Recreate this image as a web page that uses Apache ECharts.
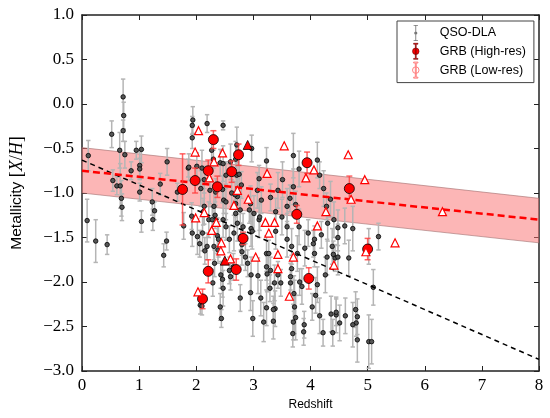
<!DOCTYPE html>
<html>
<head>
<meta charset="utf-8">
<script src="https://cdn.jsdelivr.net/npm/echarts@6/dist/echarts.min.js"></script>
<style>
  html, body { margin: 0; padding: 0; background: #fff; }
  #chart { width: 550px; height: 418px; }
</style>
</head>
<body>
<div id="chart"></div>
<script>
// QSO-DLA metallicities: redshift, [X/H], 1-sigma error
const qsoZ = [0.11, 0.52, 0.72, 0.73, 0.72, 0.66, 0.75, 0.95, 1.04, 0.86, 1.01, 1.01, 0.54, 0.61, 0.67, 0.69, 0.70, 1.01, 1.23, 1.37,
  1.49, 1.67, 1.86, 1.94, 1.93, 1.93, 2.19, 2.47, 2.27, 2.30, 2.01, 2.10, 2.34, 2.42, 2.71, 2.69, 2.71, 2.72, 2.69, 2.48,
  2.31, 2.12, 0.09, 0.24, 0.44, 1.04, 1.27, 1.24, 1.48, 1.43, 1.78, 1.92, 2.02, 2.06, 2.11, 2.15, 2.07, 2.22, 2.33, 2.37,
  2.38, 2.32, 2.46, 2.47, 2.42, 2.44, 2.58, 2.60, 2.65, 2.77, 2.80, 2.80, 2.78, 2.86, 2.90, 2.96, 3.01, 3.10, 3.23, 3.27,
  3.24, 3.30, 3.38, 3.37, 3.43, 3.48, 3.59, 3.67, 3.65, 3.67, 3.72, 3.74, 3.77, 3.81, 3.85, 4.05, 4.07, 4.12, 4.16, 4.26,
  4.38, 4.43, 4.45, 2.29, 2.43, 2.96, 2.95, 3.08, 3.13, 3.23, 3.29, 2.99, 3.18, 3.35, 3.35, 3.23, 3.65, 3.70, 3.88, 3.89,
  4.09, 4.22, 4.36, 4.39, 4.45, 4.51, 4.61, 4.79, 4.82, 4.80, 4.82, 5.02, 5.07, 5.10, 3.69, 3.71, 4.03, 4.74, 2.10, 4.23,
  4.35, 4.28, 4.30, 4.41, 4.48, 4.60, 4.74, 4.48, 4.19, 5.19, 4.29, 4.40, 4.48, 4.67, 5.02, 2.97, 3.23, 3.70, 3.80, 4.12,
  4.16, 3.10, 3.07, 3.30, 3.43, 3.51, 3.70, 3.64, 3.59, 3.74, 3.39, 3.50, 3.39, 3.59, 3.80, 3.90, 3.96, 4.07, 2.75, 2.79,
  2.62, 2.68, 2.52, 2.69, 2.77, 2.95, 2.93, 3.14, 3.11, 2.72, 2.82, 2.98, 2.66, 2.52, 2.47, 2.58, 2.39, 2.31, 2.19, 1.93,
  2.28, 2.14, 1.87, 2.14, 2.08, 2.24, 2.46, 2.47, 2.52, 2.60];
const qsoMet = [-0.58, -0.34, 0.08, -0.13, -0.30, -0.52, -0.57, -0.52, -0.51, -0.75, -0.69, -0.73, -0.86, -0.92, -0.92, -1.06, -1.16, -0.99, -1.10, -0.90,
  -0.65, -0.99, -0.72, -0.18, -0.38, -0.24, -0.22, -0.24, -0.52, -0.62, -0.70, -0.72, -0.99, -0.66, -0.46, -0.62, -0.80, -1.04, -1.23, -1.08,
  -1.15, -1.21, -1.31, -1.54, -1.58, -1.32, -1.20, -1.30, -1.54, -1.70, -1.37, -1.26, -1.49, -1.57, -1.45, -1.65, -2.26, -1.30, -1.25, -1.48,
  -1.64, -1.79, -1.97, -2.07, -2.28, -2.41, -1.87, -1.94, -1.83, -2.18, -1.66, -1.58, -1.49, -1.72, -1.79, -1.40, -1.23, -1.30, -1.68, -1.68,
  -1.91, -1.87, -2.30, -2.01, -1.92, -2.01, -1.52, -1.60, -1.94, -1.85, -2.28, -2.40, -1.68, -2.00, -2.05, -1.57, -1.68, -2.03, -2.38, -1.92,
  -1.60, -1.73, -2.37, -2.01, -1.92, -1.92, -2.12, -1.93, -2.18, -2.29, -2.07, -2.41, -2.45, -2.44, -2.31, -1.83, -2.01, -2.45, -2.56, -2.48,
  -2.15, -2.57, -2.36, -2.57, -2.34, -2.46, -2.38, -2.31, -2.39, -2.46, -2.65, -2.67, -2.67, -2.06, -2.58, -2.13, -2.28, -2.48, -2.27, -0.95,
  -1.07, -1.15, -1.34, -1.30, -1.39, -1.37, -1.40, -1.50, -1.47, -1.49, -1.72, -1.69, -1.72, -1.73, -1.60, -0.50, -0.64, -0.58, -0.73, -0.63,
  -0.80, -0.84, -0.97, -1.05, -0.97, -0.85, -0.93, -1.06, -1.15, -1.13, -1.21, -1.27, -1.43, -1.38, -1.38, -1.62, -1.45, -1.52, -0.79, -0.91,
  -1.00, -1.02, -1.10, -1.12, -1.19, -1.12, -1.19, -1.08, -1.27, -1.34, -1.38, -1.43, -1.45, -1.38, -1.30, -1.52, -1.52, -1.60, -1.60, -1.45,
  -1.30, -1.15, -0.71, -0.85, -0.95, -0.97, -0.96, -0.67, -0.80, -0.65];
const qsoErr = [0.17, 0.15, 0.20, 0.15, 0.12, 0.20, 0.15, 0.10, 0.15, 0.10, 0.15, 0.12, 0.12, 0.10, 0.25, 0.20, 0.15, 0.10, 0.15, 0.12,
  0.15, 0.10, 0.10, 0.15, 0.12, 0.10, 0.10, 0.05, 0.15, 0.10, 0.15, 0.20, 0.15, 0.15, 0.20, 0.20, 0.15, 0.20, 0.15, 0.15,
  0.20, 0.15, 0.24, 0.24, 0.11, 0.12, 0.10, 0.12, 0.10, 0.13, 0.15, 0.15, 0.20, 0.15, 0.20, 0.15, 0.10, 0.20, 0.15, 0.20,
  0.15, 0.15, 0.20, 0.20, 0.15, 0.10, 0.15, 0.15, 0.15, 0.15, 0.15, 0.12, 0.15, 0.15, 0.15, 0.20, 0.20, 0.20, 0.20, 0.15,
  0.20, 0.15, 0.20, 0.20, 0.15, 0.15, 0.20, 0.20, 0.15, 0.15, 0.30, 0.25, 0.20, 0.15, 0.20, 0.15, 0.15, 0.20, 0.20, 0.20,
  0.20, 0.15, 0.20, 0.15, 0.15, 0.20, 0.20, 0.20, 0.20, 0.20, 0.15, 0.20, 0.22, 0.20, 0.15, 0.15, 0.15, 0.20, 0.15, 0.15,
  0.20, 0.15, 0.20, 0.15, 0.15, 0.20, 0.20, 0.20, 0.20, 0.15, 0.25, 0.30, 0.25, 0.20, 0.15, 0.20, 0.15, 0.25, 0.10, 0.20,
  0.20, 0.15, 0.20, 0.20, 0.20, 0.20, 0.25, 0.15, 0.15, 0.15, 0.20, 0.15, 0.20, 0.20, 0.20, 0.15, 0.15, 0.25, 0.20, 0.20,
  0.15, 0.15, 0.20, 0.15, 0.20, 0.20, 0.20, 0.15, 0.20, 0.15, 0.15, 0.20, 0.20, 0.15, 0.20, 0.20, 0.15, 0.15, 0.20, 0.15,
  0.15, 0.15, 0.20, 0.15, 0.15, 0.20, 0.15, 0.15, 0.15, 0.20, 0.15, 0.20, 0.20, 0.15, 0.20, 0.15, 0.20, 0.15, 0.15, 0.15,
  0.15, 0.20, 0.15, 0.15, 0.20, 0.15, 0.15, 0.20, 0.15, 0.20];

// GRB-DLA, high resolution spectra (circles = measurements, triangles = limits)
const grbHiZ = [1.76, 1.98, 2.21, 2.30, 2.37, 2.62, 2.74, 2.82, 3.76, 3.94, 4.68, 5.00, 2.11, 2.21, 2.70, 3.97];
const grbHiMet = [-0.96, -0.86, -0.75, -0.40, -0.93, -0.76, -0.57, -1.51, -1.24, -0.66, -0.95, -1.63, -2.19, -1.88, -1.86, -1.96];
const grbHiErr = [0.40, 0.14, 0.12, 0.10, 0.12, 0.12, 0.12, 0.07, 0.10, 0.12, 0.14, 0.12, 0.11, 0.13, 0.12, 0.12];
const grbHiLimZ = [2.90, 2.50];
const grbHiLimMet = [-0.46, -1.76];

// GRB-DLA, low resolution spectra (limits)
const grbLoZ = [2.04, 1.98, 2.46, 2.31, 3.54, 4.06, 3.92, 3.24, 2.23, 2.72, 2.91, 2.66, 4.27, 2.14, 1.99, 2.35, 3.21, 3.37,
  2.27, 3.27, 4.12, 2.44, 2.43, 3.04, 3.43, 3.70, 3.43, 2.60, 4.41, 2.03, 3.63, 4.66, 4.95, 4.71, 6.31, 5.48, 4.97];
const grbLoMet = [-0.30, -0.54, -0.55, -0.65, -0.47, -0.74, -0.83, -0.78, -0.83, -0.97, -1.07, -1.14, -1.21, -1.22, -1.28, -1.33, -1.33, -1.33,
  -1.42, -1.45, -1.37, -1.56, -1.65, -1.72, -1.69, -1.72, -1.85, -1.74, -1.81, -2.11, -2.16, -0.57, -0.85, -1.07, -1.21, -1.56, -1.66];

// linear fits
const fitZ = [0, 8];
const qsoFitMet = [-0.63, -2.87];
const grbFitMet = [-0.75, -1.30];
const grbBandLo = [-1.00, -1.56];
const grbBandHi = [-0.49, -1.06];

const minus = (s) => s.replace('-', '\u2212');

function errorBars(color, width, cap) {
  return function (params, api) {
    const x = api.value(0), y = api.value(1), e = api.value(2);
    const top = api.coord([x, y + e]);
    const bot = api.coord([x, y - e]);
    const st = { stroke: color, lineWidth: width };
    return {
      type: 'group',
      children: [
        { type: 'line', shape: { x1: top[0], y1: top[1], x2: bot[0], y2: bot[1] }, style: st },
        { type: 'line', shape: { x1: top[0] - cap, y1: top[1], x2: top[0] + cap, y2: top[1] }, style: st },
        { type: 'line', shape: { x1: bot[0] - cap, y1: bot[1], x2: bot[0] + cap, y2: bot[1] }, style: st }
      ]
    };
  };
}

const qsoData = qsoZ.map((z, i) => [z, qsoMet[i], qsoErr[i]]);
const grbHiData = grbHiZ.map((z, i) => [z, grbHiMet[i], grbHiErr[i]]);

// legend icons: error bar with a marker in the middle
const barIcon = 'path://M3,1H9V2.2H6.6V21.8H9V23H3V21.8H5.4V2.2H3Z';
const qsoIcon = barIcon + 'M8.2,12A2.2,2.2 0 1,1 3.8,12A2.2,2.2 0 1,1 8.2,12Z';
const grbIcon = barIcon + 'M10.5,12A4.5,4.5 0 1,1 1.5,12A4.5,4.5 0 1,1 10.5,12Z';

const tickLabel = { fontFamily: 'Liberation Serif', fontSize: 17, color: '#000' };
const axisLine = { onZero: false, lineStyle: { color: '#222', width: 1.5 } };
const tick = { inside: true, length: 5, lineStyle: { color: '#222', width: 1 } };

const chart = echarts.init(document.getElementById('chart'));

chart.setOption({
  animation: false,
  grid: { left: 81, right: 11, top: 15, bottom: 47 },
  legend: {
    left: 397,
    top: 21,
    orient: 'vertical',
    padding: [4, 8, 4, 15],
    itemGap: 2,
    itemWidth: 8,
    itemHeight: 16,
    borderColor: '#444',
    borderWidth: 1,
    textStyle: { fontFamily: 'Liberation Sans', fontSize: 12.5, color: '#000', padding: [0, 0, 0, 15] },
    data: [
      { name: 'QSO-DLA', icon: qsoIcon, itemStyle: { color: '#777', borderWidth: 0 } },
      { name: 'GRB (High-res)', icon: grbIcon, itemStyle: { color: '#ff0000', borderColor: '#600', borderWidth: 0.6 } },
      { name: 'GRB (Low-res)', icon: grbIcon, itemStyle: { color: '#fff', borderColor: '#ff8080', borderWidth: 1 } }
    ]
  },
  xAxis: [
    {
      type: 'value', min: 0, max: 8, interval: 1,
      name: 'Redshift', nameLocation: 'middle', nameGap: 28,
      nameTextStyle: { fontFamily: 'Liberation Sans', fontSize: 12, color: '#000' },
      axisLine: axisLine, axisTick: tick,
      axisLabel: Object.assign({ margin: 6 }, tickLabel),
      splitLine: { show: false }
    },
    {
      type: 'value', min: 0, max: 8, interval: 1, position: 'top',
      axisLine: axisLine, axisTick: tick, axisLabel: { show: false }, splitLine: { show: false }
    }
  ],
  yAxis: [
    {
      type: 'value', min: -3, max: 1, interval: 0.5,
      name: '{a|Metallicity }{b|[}{i|X}{b|/}{i|H}{b|]}', nameLocation: 'middle', nameGap: 56,
      nameTextStyle: {
        rich: {
          a: { fontFamily: 'Liberation Sans', fontSize: 15.5, color: '#000' },
          b: { fontFamily: 'Liberation Serif', fontSize: 18, color: '#000' },
          i: { fontFamily: 'Liberation Serif', fontStyle: 'italic', fontSize: 18, color: '#000' }
        }
      },
      axisLine: axisLine, axisTick: tick,
      axisLabel: Object.assign({ margin: 8, formatter: (v) => minus(v.toFixed(1)) }, tickLabel),
      splitLine: { show: false }
    },
    {
      type: 'value', min: -3, max: 1, interval: 0.5, position: 'right',
      axisLine: axisLine, axisTick: tick, axisLabel: { show: false }, splitLine: { show: false }
    }
  ],
  series: [
    {
      type: 'custom',
      name: 'band',
      z: 1,
      silent: true,
      clip: true,
      data: [[fitZ[0], grbBandLo[0], grbBandHi[0]]],
      renderItem: function (params, api) {
        const hi = fitZ.map((z, i) => api.coord([z, grbBandHi[i]]));
        const lo = fitZ.map((z, i) => api.coord([z, grbBandLo[i]])).reverse();
        return {
          type: 'polygon',
          shape: { points: hi.concat(lo) },
          style: { fill: 'rgba(250,110,110,0.5)', stroke: 'rgba(160,110,110,0.6)', lineWidth: 1 }
        };
      }
    },
    {
      type: 'custom',
      name: 'qsoErr',
      z: 2,
      silent: true,
      clip: true,
      data: qsoData,
      renderItem: errorBars('#b5b5b5', 1.5, 2.2)
    },
    {
      type: 'scatter',
      name: 'QSO-DLA',
      z: 3,
      symbolSize: 4.5,
      data: qsoData,
      itemStyle: { color: '#555', borderColor: '#000', borderWidth: 0.8, opacity: 1 }
    },
    {
      type: 'line',
      name: 'qsoFit',
      z: 4,
      showSymbol: false,
      silent: true,
      data: fitZ.map((z, i) => [z, qsoFitMet[i]]),
      lineStyle: { color: '#000', width: 1.5, type: [5, 4] }
    },
    {
      type: 'line',
      name: 'grbFit',
      z: 4,
      showSymbol: false,
      silent: true,
      data: fitZ.map((z, i) => [z, grbFitMet[i]]),
      lineStyle: { color: '#ff0000', width: 2.5, type: [7, 4] }
    },
    {
      type: 'custom',
      name: 'grbErr',
      z: 5,
      silent: true,
      clip: true,
      data: grbHiData,
      renderItem: errorBars('rgba(255,60,60,0.8)', 1.5, 3)
    },
    {
      type: 'scatter',
      name: 'GRB (High-res)',
      z: 6,
      symbolSize: 10,
      data: grbHiData,
      itemStyle: { color: '#ff0000', borderColor: '#000', borderWidth: 0.8, opacity: 1 }
    },
    {
      type: 'scatter',
      name: 'GRB (High-res)',
      z: 6,
      symbol: 'triangle',
      symbolSize: 9,
      data: grbHiLimZ.map((z, i) => [z, grbHiLimMet[i]]),
      itemStyle: { color: '#ff0000', borderColor: '#000', borderWidth: 0.8, opacity: 1 }
    },
    {
      type: 'scatter',
      name: 'GRB (Low-res)',
      z: 6,
      symbol: 'triangle',
      symbolSize: 8,
      data: grbLoZ.map((z, i) => [z, grbLoMet[i]]),
      itemStyle: { color: '#fff', borderColor: '#ff0000', borderWidth: 1.2, opacity: 1 }
    }
  ]
});
</script>
</body>
</html>
